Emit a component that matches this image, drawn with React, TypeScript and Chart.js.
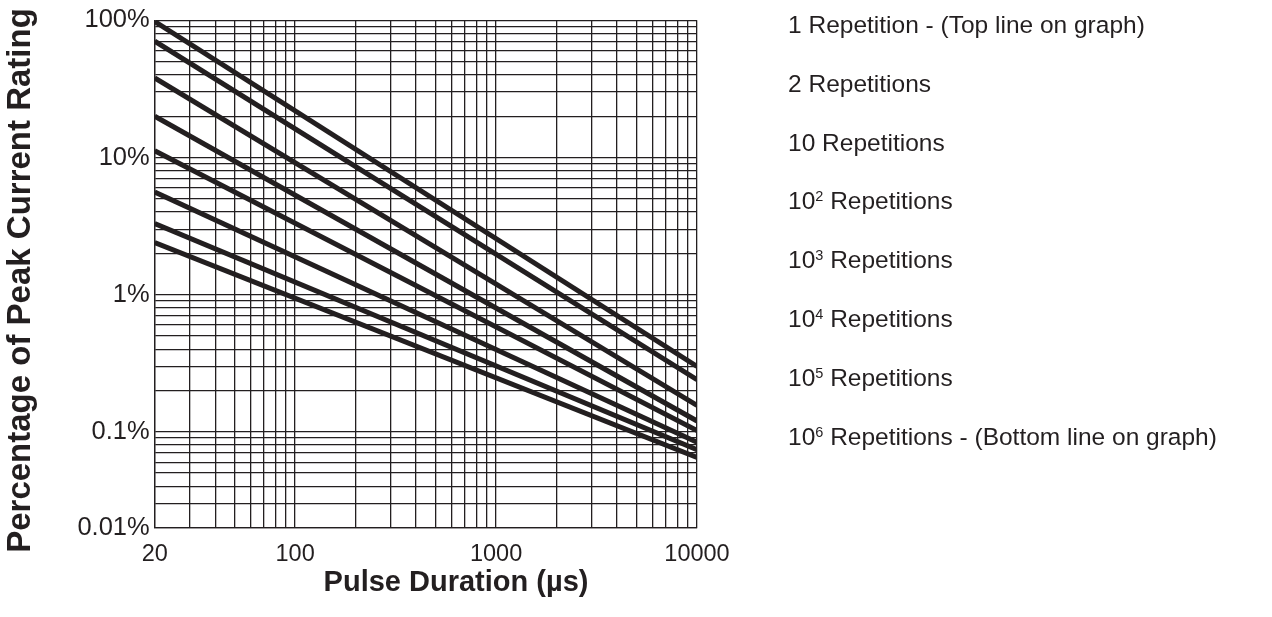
import React, { useEffect, useRef } from 'react';
import { Chart, registerables } from 'chart.js';

Chart.register(...registerables);

// ---- data (straight lines on log-log axes) ----
const pulseDurationUs = [20, 10000];

const rep1 = [98, 0.3];
const rep2 = [70.5, 0.24];
const rep10 = [38, 0.156];
const rep1e2 = [20, 0.12];
const rep1e3 = [11.2, 0.102];
const rep1e4 = [5.6, 0.084];
const rep1e5 = [3.3, 0.074];
const rep1e6 = [2.4, 0.065];

const seriesValues = [rep1, rep2, rep10, rep1e2, rep1e3, rep1e4, rep1e5, rep1e6];

// label parts: [base, superscript, rest]
const seriesLabelParts: [string, string, string][] = [
  ['1 Repetition - (Top line on graph)', '', ''],
  ['2 Repetitions', '', ''],
  ['10 Repetitions', '', ''],
  ['10', '2', ' Repetitions'],
  ['10', '3', ' Repetitions'],
  ['10', '4', ' Repetitions'],
  ['10', '5', ' Repetitions'],
  ['10', '6', ' Repetitions - (Bottom line on graph)'],
];

// grid (tick) values
const xGridValues = [
  20, 30, 40, 50, 60, 70, 80, 90,
  100, 200, 300, 400, 500, 600, 700, 800, 900,
  1000, 2000, 3000, 4000, 5000, 6000, 7000, 8000, 9000,
  10000,
];
const yGridValues = [
  0.02, 0.03, 0.04, 0.05, 0.06, 0.07, 0.08, 0.09,
  0.1, 0.2, 0.3, 0.4, 0.5, 0.6, 0.7, 0.8, 0.9,
  1, 2, 3, 4, 5, 6, 7, 8, 9,
  10, 20, 30, 40, 50, 60, 70, 80, 90,
  100,
];

const xLabelValues = [20, 100, 1000, 10000];
const xLabelTexts = ['20', '100', '1000', '10000'];
const yLabelValues = [100, 10, 1, 0.1, 0.02];
const yLabelTexts = ['100%', '10%', '1%', '0.1%', '0.01%'];

const xTitle = 'Pulse Duration (µs)';
const yTitle = 'Percentage of Peak Current Rating';

const INK = '#231f20';
const FAMILY = '"Liberation Sans", Arial, Helvetica, sans-serif';

function labelFor(v: number, values: number[], texts: string[]): string {
  for (let i = 0; i < values.length; i++) {
    if (Math.abs(Math.log10(v) - Math.log10(values[i])) < 1e-6) return texts[i];
  }
  return '';
}

const axisTitlesPlugin = {
  id: 'axisTitles',
  afterDraw(chart: any) {
    const ctx = chart.ctx as CanvasRenderingContext2D;
    ctx.save();
    ctx.fillStyle = INK;
    ctx.textAlign = 'center';
    ctx.textBaseline = 'middle';
    // y title (rotated)
    ctx.save();
    ctx.translate(20.5, 280.5);
    ctx.rotate(-Math.PI / 2);
    ctx.font = `bold 33px ${FAMILY}`;
    ctx.fillText(yTitle, 0, 0);
    ctx.restore();
    // x title
    ctx.font = `bold 29px ${FAMILY}`;
    ctx.fillText(xTitle, 456, 583);
    ctx.restore();
  },
};

export default function App() {
  const canvasRef = useRef<HTMLCanvasElement>(null);

  useEffect(() => {
    const canvas = canvasRef.current;
    if (!canvas) return;
    const chart = new Chart(canvas, {
      type: 'line',
      data: {
        datasets: seriesValues.map((vals, i) => ({
          label: seriesLabelParts[i][0] + (seriesLabelParts[i][1] ? '^' + seriesLabelParts[i][1] : '') + seriesLabelParts[i][2],
          data: pulseDurationUs.map((x, j) => ({ x, y: vals[j] })),
          borderColor: INK,
          backgroundColor: INK,
          borderWidth: 5,
          pointRadius: 0,
          fill: false,
          tension: 0,
        })),
      },
      options: {
        responsive: false,
        animation: false,
        layout: { padding: { top: 15.7, left: 0, right: 575, bottom: 0 } },
        plugins: {
          legend: { display: false },
          tooltip: { enabled: false },
          title: { display: false },
        },
        scales: {
          x: {
            type: 'logarithmic',
            min: 20,
            max: 10000,
            afterBuildTicks: (s: any) => {
              s.ticks = xGridValues.map((v) => ({ value: v }));
            },
            afterFit: (s: any) => {
              s.height = 89.3;
            },
            grid: { color: INK, lineWidth: 1.3, drawTicks: false },
            border: { color: INK, width: 1.3 },
            ticks: {
              autoSkip: false,
              maxRotation: 0,
              minRotation: 0,
              padding: 13,
              color: INK,
              font: { family: FAMILY, size: 23.5 },
              callback: (v: any) => labelFor(Number(v), xLabelValues, xLabelTexts),
            },
            title: { display: false },
          },
          y: {
            type: 'logarithmic',
            min: 0.02,
            max: 100,
            afterBuildTicks: (s: any) => {
              s.ticks = yGridValues.map((v) => ({ value: v }));
            },
            afterFit: (s: any) => {
              s.width = 154.7;
            },
            grid: { color: INK, lineWidth: 1.3, drawTicks: false },
            border: { color: INK, width: 1.3 },
            ticks: {
              autoSkip: false,
              padding: 5,
              color: INK,
              font: { family: FAMILY, size: 25.5 },
              callback: (v: any) => labelFor(Number(v), yLabelValues, yLabelTexts),
            },
          },
        },
      } as any,
      plugins: [axisTitlesPlugin],
    });
    return () => chart.destroy();
  }, []);

  return (
    <div style={{ position: 'fixed', left: 0, top: 0, width: 1272, height: 617, background: '#ffffff' }}>
      <canvas ref={canvasRef} width={1272} height={617} style={{ position: 'absolute', left: 0, top: 0, width: 1272, height: 617 }} />
      {seriesLabelParts.map((p, i) => (
        <div
          key={i}
          style={{
            position: 'absolute',
            left: 788,
            top: 25 + i * 58.8 - 15,
            height: 30,
            lineHeight: '30px',
            fontFamily: FAMILY,
            fontSize: 24.5,
            color: INK,
            whiteSpace: 'nowrap',
          }}
        >
          {p[0]}
          {p[1] ? (
            <span style={{ fontSize: 14.5, position: 'relative', top: -8 }}>{p[1]}</span>
          ) : null}
          {p[2]}
        </div>
      ))}
    </div>
  );
}
